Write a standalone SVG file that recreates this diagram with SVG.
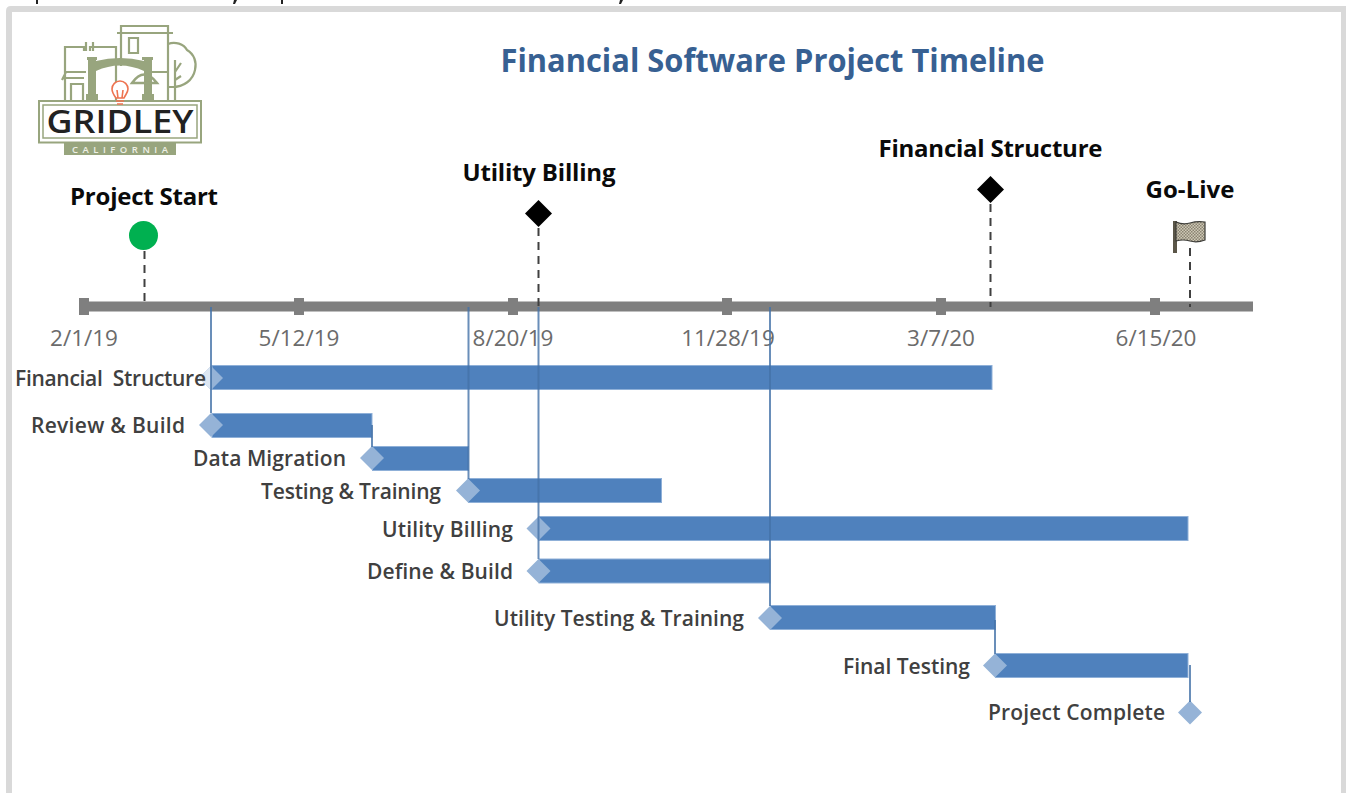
<svg xmlns="http://www.w3.org/2000/svg" width="1346" height="793" viewBox="0 0 1346 793">
<style>
text{font-family:"Open Sans","Noto Sans","Liberation Sans",sans-serif}
.ms{font-size:24px;font-weight:700;fill:#0a0a0a;text-anchor:middle}
.ax{font-size:22.5px;fill:#6b6b6b;text-anchor:middle}
.lb{font-size:21px;font-weight:600;fill:#404040;text-anchor:end}
.bar{fill:#4f81bd;stroke:#8fb0d8;stroke-width:1}
.dm{fill:#95b3d7}
.dep{stroke:#4472a8;stroke-width:2;fill:none;opacity:.8}
.drop{stroke:#404040;stroke-width:2;stroke-dasharray:8 6;fill:none}
.tick{fill:#7f7f7f}
.lg{fill:none;stroke:#98a57e;stroke-width:2.200}
.lf{fill:#98a57e}
</style>
<defs>
<pattern id="chk" width="3" height="3" patternUnits="userSpaceOnUse"><rect width="3" height="3" fill="#cfc9b6"/><rect width="1.500" height="1.500" fill="#8a8372"/><rect x="1.500" y="1.500" width="1.500" height="1.500" fill="#8a8372"/></pattern>
</defs>
<rect width="1346" height="793" fill="#fff"/>
<g id="clipped-top-marks" fill="#222">
<rect x="36" y="0" width="2" height="4"/><path d="M234 0h3l-2 4h-2z"/><rect x="281" y="0" width="2" height="4"/><path d="M620 0h3l-2 4h-2z"/>
</g>
<path id="frame" d="M1346 9H11Q9 9 9 11V793" fill="none" stroke="#d9d9d9" stroke-width="6"/>
<path d="M1343.500 9V793" fill="none" stroke="#d9d9d9" stroke-width="5"/>
<g id="logo">
<path class="lg" d="M65 100V47H84V51M90 51V47H116V66M116 47V100M121 66V26H168V100M117 33H173M65 78H84M71 100V84H83V100M62 80L66 72H86M150 72H168"/>
<path class="lg" d="M129 38H138V53H129ZM168 44C175 41 184 44 187 50C194 54 197 62 195 70C193 80 184 87 172 87H168M175 60V100M175 72L181 63M175 80L181 76M86 42V51M93 42V51"/>
<path class="lf" d="M87 57H97V60H96V94H98V100H86V94H88V60H87ZM142 57H153V60H152V94H154V100H142V94H144V60H142ZM96 61Q120 55 144 61V71Q120 60 96 71Z"/>
<path d="M132 83Q144 66 157 83Z" fill="none" stroke="#98a57e" stroke-width="2.500"/>
<rect x="39" y="101" width="162" height="41.500" fill="#fff" stroke="#98a57e" stroke-width="2"/>
<rect x="43" y="105" width="154" height="33" fill="#fff" stroke="#98a57e" stroke-width="1.500"/>
<text x="120" y="133" text-anchor="middle" style="font-size:32px;font-weight:600;fill:#222" textLength="147" lengthAdjust="spacingAndGlyphs">GRIDLEY</text>
<rect x="64" y="143" width="112" height="12" fill="#98a57e"/>
<text x="120" y="153" text-anchor="middle" style="font-size:9.500px;font-weight:600;fill:#eef0e6" textLength="96">CALIFORNIA</text>
<g fill="#fff" stroke="#ee7350" stroke-width="1.600"><path d="M116 98C113 94 112 92 112 89A8 8 0 0 1 128 89C128 92 126 94 124 98ZM116 101H124M117 104H123M118 98L117 90M122 98L123 90"/></g>
</g>
<g id="title"><text x="772.500" y="72" text-anchor="middle" textLength="544" lengthAdjust="spacingAndGlyphs" style="font-size:32px;font-weight:700;fill:#376092">Financial Software Project Timeline</text></g>
<g id="axis">
<rect class="tick" x="79" y="301.500" width="1174" height="10"/>
<rect class="tick" x="79" y="298" width="10" height="17"/><rect class="tick" x="294" y="298" width="10" height="17"/><rect class="tick" x="508" y="298" width="10" height="17"/><rect class="tick" x="722" y="298" width="10" height="17"/><rect class="tick" x="936" y="298" width="10" height="17"/><rect class="tick" x="1150" y="298" width="10" height="17"/>
<text class="ax" x="84" y="346">2/1/19</text><text class="ax" x="299" y="346">5/12/19</text><text class="ax" x="513" y="346">8/20/19</text><text class="ax" x="728" y="346">11/28/19</text><text class="ax" x="941" y="346">3/7/20</text><text class="ax" x="1156" y="346">6/15/20</text>
</g>
<g id="ms-start"><text class="ms" x="144" y="205" textLength="148">Project Start</text><circle cx="143.500" cy="235.500" r="14.500" fill="#00b050"/></g>
<g id="ms-utility"><text class="ms" x="539" y="181" textLength="153">Utility Billing</text><path d="M538.500 200L552 213.500L538.500 227L525 213.500Z" fill="#000"/></g>
<g id="ms-financial"><text class="ms" x="990.500" y="157" textLength="224">Financial Structure</text><path d="M990.500 176L1004 189.500L990.500 203L977 189.500Z" fill="#000"/></g>
<g id="ms-golive"><text class="ms" x="1190" y="198" textLength="89">Go-Live</text>
<path d="M1175 221V253" stroke="#5b5648" stroke-width="4" fill="none"/><path d="M1176 222Q1183 225 1190 223T1205 222V240Q1197 243 1190 241T1176 241Z" fill="url(#chk)" stroke="#3c3c38" stroke-width="1.200"/></g>
<g id="bars">
<g id="t-financial"><rect class="bar" x="212" y="365.500" width="780" height="24"/><path class="dm" d="M211 366L223 378L211 390L199 378Z"/><path d="M211 366L199 378L211 390Z" fill="#dce6f2"/><text class="lb" x="206" y="386" xml:space="preserve" textLength="191">Financial  Structure</text></g>
<g id="t-review"><rect class="bar" x="212" y="413.500" width="160" height="24"/><path class="dm" d="M211 413L223 425L211 437L199 425Z"/><text class="lb" x="185" y="433" textLength="154">Review &amp; Build</text></g>
<g id="t-data"><rect class="bar" x="372.500" y="446.500" width="96" height="24"/><path class="dm" d="M372 446L384 458L372 470L360 458Z"/><text class="lb" x="346" y="466" textLength="153">Data Migration</text></g>
<g id="t-testing"><rect class="bar" x="468.500" y="478.500" width="193" height="24"/><path class="dm" d="M468 478.500L480 490.500L468 502.500L456 490.500Z"/><text class="lb" x="441" y="499" textLength="180">Testing &amp; Training</text></g>
<g id="t-utility"><rect class="bar" x="539" y="516.500" width="649" height="24"/><path class="dm" d="M538.500 516.500L550.500 528.500L538.500 540.500L526.500 528.500Z"/><text class="lb" x="513" y="537" textLength="131">Utility Billing</text></g>
<g id="t-define"><rect class="bar" x="539" y="559" width="231" height="24"/><path class="dm" d="M538.500 559L550.500 571L538.500 583L526.500 571Z"/><text class="lb" x="513" y="579" textLength="146">Define &amp; Build</text></g>
<g id="t-utt"><rect class="bar" x="770.500" y="605.500" width="225" height="24"/><path class="dm" d="M770 606L782 618L770 630L758 618Z"/><text class="lb" x="744" y="626" textLength="250">Utility Testing &amp; Training</text></g>
<g id="t-final"><rect class="bar" x="995.500" y="653.500" width="192.500" height="24"/><path class="dm" d="M995 653.500L1007 665.500L995 677.500L983 665.500Z"/><text class="lb" x="970" y="674" textLength="127">Final Testing</text></g>
<g id="t-complete"><path class="dm" d="M1190 700.500L1202 712.500L1190 724.500L1178 712.500Z"/><text class="lb" x="1165" y="720" textLength="177">Project Complete</text></g>
</g>
<g id="connectors">
<path class="drop" d="M144.500 251V306M538.500 228V306M990.500 204V307M1190 248V307"/>
<path class="dep" d="M211 307V413M468.500 307V479M538.500 307V559M770 307V606M372 425V447M995 620V654M1190 665V702"/>
</g>
</svg>
